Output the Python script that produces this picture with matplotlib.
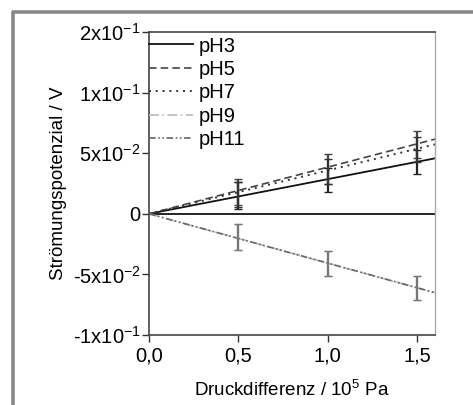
import matplotlib
matplotlib.use("Agg")
import matplotlib.pyplot as plt
from matplotlib.lines import Line2D
import numpy as np

plt.rcParams['font.family'] = ['Liberation Sans', 'DejaVu Sans']
plt.rcParams['mathtext.fontset'] = 'custom'
plt.rcParams['mathtext.rm'] = 'Liberation Sans'
plt.rcParams['mathtext.it'] = 'Liberation Sans'

# Data
pressure = [0.5, 1.0, 1.5]
series = ["pH3", "pH5", "pH7", "pH9", "pH11"]
values = {
    "pH3": [0.015, 0.028, 0.043],
    "pH5": [0.018, 0.037, 0.057],
    "pH7": [0.016, 0.035, 0.053],
    "pH9": [-0.019, -0.041, -0.061],
    "pH11": [-0.019, -0.041, -0.061],
}
errors = {
    "pH3": [0.011, 0.010, 0.010],
    "pH5": [0.011, 0.012, 0.011],
    "pH7": [0.010, 0.010, 0.010],
    "pH9": [0.0105, 0.0104, 0.010],
    "pH11": [0.0105, 0.0104, 0.010],
}
slopes = {"pH3": 0.0286, "pH5": 0.0385, "pH7": 0.0358, "pH9": -0.0407, "pH11": -0.0407}
fit_x = [0.0, 1.6]
yticks = [-0.1, -0.05, 0.0, 0.05, 0.1, 0.2]
ytick_labels = ["-1x10$^{\\mathregular{-1}}$", "-5x10$^{\\mathregular{-2}}$", "0",
                "5x10$^{\\mathregular{-2}}$", "1x10$^{\\mathregular{-1}}$", "2x10$^{\\mathregular{-1}}$"]
xticks = [0.0, 0.5, 1.0, 1.5]
xtick_labels = ["0,0", "0,5", "1,0", "1,5"]

styles = {
    "pH3": dict(color="#111111", ls="-", lw=1.3),
    "pH5": dict(color="#444444", ls=(0, (4.5, 2.5)), lw=1.2),
    "pH7": dict(color="#333333", ls=(0, (1, 2.5)), lw=1.4),
    "pH9": dict(color="#bbbbbb", ls=(0, (6, 2, 1, 2)), lw=1.2),
    "pH11": dict(color="#666666", ls=(0, (4, 1.5, 1, 1.5, 1, 1.5)), lw=1.2),
}
err_colors = {"pH3": "#222222", "pH5": "#444444", "pH7": "#333333", "pH9": "#bbbbbb", "pH11": "#777777"}

fig = plt.figure(figsize=(4.73, 4.05), dpi=100)
ax = fig.add_axes([149/473, 1-335/405, (435-149)/473, (335-32)/405])

def fwd(y):
    y = np.asarray(y, dtype=float)
    return np.where(y <= 0.1, y, 0.1 + (y - 0.1) / 2)

def inv(y):
    y = np.asarray(y, dtype=float)
    return np.where(y <= 0.1, y, 0.1 + (y - 0.1) * 2)

ax.set_yscale('function', functions=(fwd, inv))

ax.axhline(0, color="black", lw=1.2, zorder=1)

for s in series:
    ax.plot(fit_x, [slopes[s] * x for x in fit_x], label=s, **styles[s], zorder=2)
for s in series:
    ax.errorbar(pressure, values[s], yerr=errors[s], fmt='none', ecolor=err_colors[s],
                elinewidth=1.6, capsize=2.6, capthick=1.0, zorder=3)

ax.set_xlim(0, 1.6)
ax.set_ylim(-0.1, 0.2)
ax.set_xticks(xticks)
ax.set_xticklabels(xtick_labels)
ax.set_yticks(yticks)
ax.set_yticklabels(ytick_labels)
ax.minorticks_off()
ax.tick_params(direction='out', length=5, width=1, labelsize=14.5, colors='#333333')
ax.tick_params(axis='x', pad=3, labelcolor='black')
ax.tick_params(axis='y', pad=1, labelcolor='black')

for side in ['left', 'bottom', 'top']:
    ax.spines[side].set_color('#444444')
    ax.spines[side].set_linewidth(1.2)
ax.spines['right'].set_color('#aaaaaa')
ax.spines['right'].set_linewidth(1.0)

ax.set_ylabel("Strömungspotenzial / V", fontsize=13.5, labelpad=4)
ax.set_xlabel("Druckdifferenz / 10$^{\\mathregular{5}}$ Pa", fontsize=13.5, labelpad=11)

leg = ax.legend(loc='upper left', bbox_to_anchor=(0, 0.985), borderaxespad=0, borderpad=0,
                frameon=False, fontsize=14.5, handlelength=2.2, handletextpad=0.25,
                labelspacing=0.22)

# gray frame around figure
fig.add_artist(Line2D([13/473, 13/473], [0, 1-11/405], transform=fig.transFigure,
                      color='#888888', lw=2.6, solid_capstyle='butt'))
fig.add_artist(Line2D([12/473, 1], [1-11.5/405, 1-11.5/405], transform=fig.transFigure,
                      color='#888888', lw=2.6, solid_capstyle='butt'))

fig.savefig("out.png", dpi=100)
